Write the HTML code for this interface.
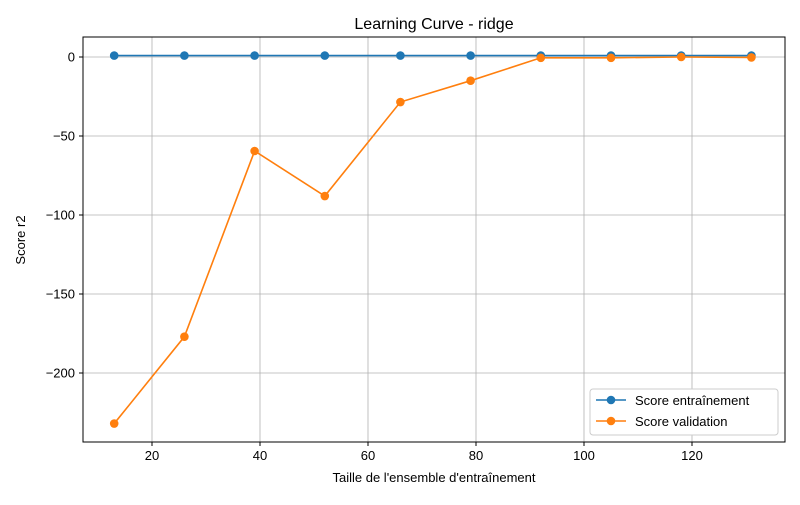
<!DOCTYPE html>
<html><head><meta charset="utf-8"><style>
body{margin:0;background:#fff;font-family:"Liberation Sans",sans-serif;}
</style></head><body>
<svg id="chart" width="800" height="500" xmlns="http://www.w3.org/2000/svg">
<text x="434" y="29" text-anchor="middle" font-size="16">Learning Curve - ridge</text>
<g id="grid"></g>
<g id="axes"></g>
<g id="series"></g>
<text x="434" y="482" text-anchor="middle" font-size="13">Taille de l'ensemble d'entraînement</text>
<text x="25" y="240" text-anchor="middle" font-size="13" transform="rotate(-90 25 240)">Score r2</text>
<g>
<rect x="590" y="389" width="188" height="46" fill="#fff" stroke="#ccc" rx="3"/>
<g>
<line x1="596" y1="400" x2="626" y2="400" stroke="#1f77b4" stroke-width="1.6"/><circle cx="611" cy="400" r="4.3" fill="#1f77b4"/>
<text x="635" y="405" font-size="13">Score entraînement</text></g>
<g>
<line x1="596" y1="421" x2="626" y2="421" stroke="#ff7f0e" stroke-width="1.6"/><circle cx="611" cy="421" r="4.3" fill="#ff7f0e"/>
<text x="635" y="426" font-size="13">Score validation</text></g>
</g>
</svg>
<script>
const trainSizes=[13,26,39,52,66,79,92,105,118,131];
const trainScores=[0.9,0.9,0.9,0.9,0.9,0.9,0.9,0.9,0.9,0.9];
const valScores=[-232,-177,-59.5,-88,-28.5,-15,-0.5,-0.5,0,-0.3];
const xTicks=[20,40,60,80,100,120];
const yTicks=[0,-50,-100,-150,-200];
const L=83,R=785,T=37,B=442;
const sx=v=>152+(v-20)*5.4;
const sy=v=>57-v*1.58;
const NS="http://www.w3.org/2000/svg";
function mk(t,a,p){const e=document.createElementNS(NS,t);for(const k in a)e.setAttribute(k,a[k]);p.appendChild(e);return e;}
const grid=document.getElementById('grid'),axes=document.getElementById('axes'),ser=document.getElementById('series');
xTicks.forEach(v=>{const x=sx(v);
const g=mk('line',{x1:x,x2:x,y1:T,y2:B,stroke:'#b0b0b0','stroke-width':0.8},grid);


mk('line',{x1:x,x2:x,y1:B,y2:B+4,stroke:'#000'},axes);
const t=mk('text',{x:x,y:B+18,'text-anchor':'middle','font-size':13},axes);t.textContent=v;

});
yTicks.forEach(v=>{const y=sy(v);
const g=mk('line',{x1:L,x2:R,y1:y,y2:y,stroke:'#b0b0b0','stroke-width':0.8},grid);


mk('line',{x1:L-4,x2:L,y1:y,y2:y,stroke:'#000'},axes);
const t=mk('text',{x:L-8,y:y+4.5,'text-anchor':'end','font-size':13},axes);t.textContent=v<0?'\u2212'+(-v):v;

});
const fr=mk('rect',{x:L,y:T,width:R-L,height:B-T,fill:'none',stroke:'#000','stroke-width':1},axes);


function series(vals,color,name){
const pl=mk('polyline',{points:trainSizes.map((x,i)=>sx(x)+','+sy(vals[i])).join(' '),fill:'none',stroke:color,'stroke-width':1.6},ser);


trainSizes.forEach((x,i)=>{const c=mk('circle',{cx:sx(x),cy:sy(vals[i]),r:4.3,fill:color},ser);

});}
series(trainScores,'#1f77b4','train');
series(valScores,'#ff7f0e','validation');
</script>
</body></html>
